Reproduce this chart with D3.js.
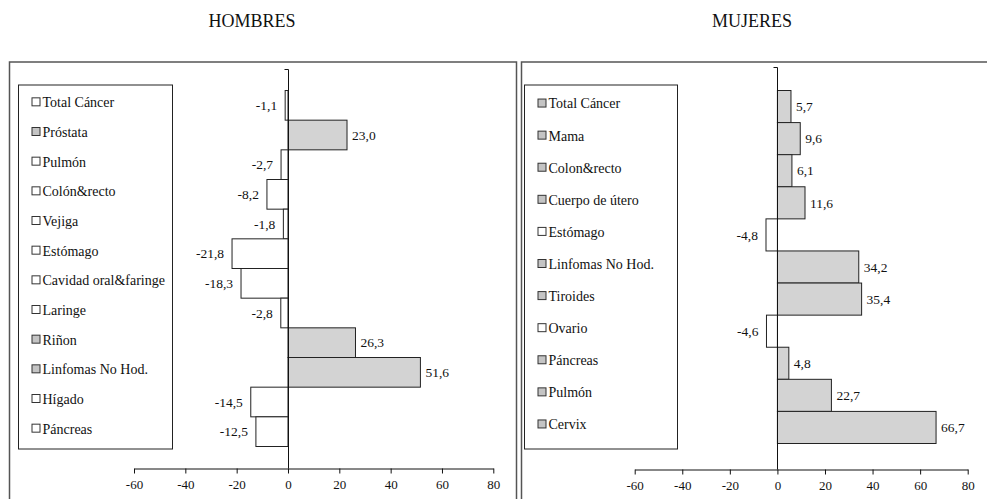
<!DOCTYPE html>
<html>
<head>
<meta charset="utf-8">
<script src="https://cdn.jsdelivr.net/npm/d3@7"></script>
<style>
  body { margin: 0; background: #fff; }
  svg { display: block; font-family: "Liberation Serif", "DejaVu Serif", serif; }
  .tick-label { font-size: 13px; fill: #111; }
  .val-label { font-size: 13.5px; fill: #111; }
  .legend-label { font-size: 14px; fill: #111; }
  .title { font-size: 18px; fill: #111; }
</style>
</head>
<body>
<svg id="chart" width="987" height="499"></svg>
<script>
// Hombres
const menCategories = ['Total Cáncer', 'Próstata', 'Pulmón', 'Colón&recto', 'Vejiga', 'Estómago',
  'Cavidad oral&faringe', 'Laringe', 'Riñon', 'Linfomas No Hod.', 'Hígado', 'Páncreas'];
const menValues = [-1.1, 23.0, -2.7, -8.2, -1.8, -21.8, -18.3, -2.8, 26.3, 51.6, -14.5, -12.5];

// Mujeres
const womenCategories = ['Total Cáncer', 'Mama', 'Colon&recto', 'Cuerpo de útero', 'Estómago',
  'Linfomas No Hod.', 'Tiroides', 'Ovario', 'Páncreas', 'Pulmón', 'Cervix'];
const womenValues = [5.7, 9.6, 6.1, 11.6, -4.8, 34.2, 35.4, -4.6, 4.8, 22.7, 66.7];

const xTicks = [-60, -40, -20, 0, 20, 40, 60, 80];

const svg = d3.select('#chart');
const fmt = v => v.toFixed(1).replace('.', ',');

function drawPanel(cfg) {
  const g = svg.append('g');

  // outer frame
  g.append('rect')
      .attr('x', cfg.frame[0]).attr('y', 62)
      .attr('width', cfg.frame[1] - cfg.frame[0]).attr('height', 460)
      .attr('fill', 'none').attr('stroke', '#555').attr('stroke-width', 1.5);

  g.append('text')
      .attr('class', 'title')
      .attr('x', cfg.titleX).attr('y', 27)
      .attr('text-anchor', 'middle')
      .text(cfg.title);

  const x = d3.scaleLinear().domain([-60, 80]).range(cfg.xRange);
  const y = d3.scaleBand().domain(cfg.categories).range(cfg.yRange).padding(0);

  // legend box
  g.append('rect')
      .attr('x', cfg.legend[0]).attr('y', 85)
      .attr('width', cfg.legend[1] - cfg.legend[0]).attr('height', 364)
      .attr('fill', '#fff').attr('stroke', '#222').attr('stroke-width', 1);

  const items = g.selectAll('.legend-item')
      .data(cfg.categories.map((c, i) => ({c, v: cfg.values[i]})))
    .join('g')
      .attr('class', 'legend-item')
      .attr('transform', d => `translate(${cfg.legend[0] + 13},${y(d.c) + y.bandwidth() / 2 - 3})`);

  items.append('rect')
      .attr('x', 0.5).attr('y', -4.5)
      .attr('width', 8).attr('height', 8)
      .attr('fill', d => d.v > 0 ? '#c4c4c4' : '#fff')
      .attr('stroke', '#333').attr('stroke-width', 1);

  items.append('text')
      .attr('class', 'legend-label')
      .attr('x', 11).attr('dy', '0.35em')
      .text(d => d.c);

  // bars
  g.selectAll('.bar')
      .data(cfg.values)
    .join('rect')
      .attr('class', 'bar')
      .attr('x', d => x(Math.min(0, d)))
      .attr('y', (d, i) => y(cfg.categories[i]))
      .attr('width', d => Math.abs(x(d) - x(0)))
      .attr('height', y.bandwidth())
      .attr('fill', d => d > 0 ? '#d3d3d3' : '#fff')
      .attr('stroke', '#222').attr('stroke-width', 1);

  // value labels
  g.selectAll('.val-label')
      .data(cfg.values)
    .join('text')
      .attr('class', 'val-label')
      .attr('x', d => d > 0 ? x(d) + 5 : x(d) - 8)
      .attr('y', (d, i) => y(cfg.categories[i]) + y.bandwidth() / 2)
      .attr('dy', '0.35em')
      .attr('text-anchor', d => d > 0 ? 'start' : 'end')
      .text(fmt);

  // category axis line
  const x0 = Math.round(x(0)) + 0.5;
  g.append('path')
      .attr('d', `M${x0 - 4},${cfg.axisTop}H${x0}V${cfg.axisY}`)
      .attr('fill', 'none').attr('stroke', '#111').attr('stroke-width', 1);

  // value axis
  const xAxis = d3.axisBottom(x).tickValues(xTicks).tickSize(5).tickSizeOuter(0).tickPadding(6)
      .tickFormat(d => d);
  const axG = g.append('g')
      .attr('transform', `translate(0,${cfg.axisY})`)
      .call(xAxis)
      .attr('font-family', null)
      .attr('font-size', null);
  axG.select('.domain').attr('stroke', '#111');
  axG.selectAll('.tick line').attr('stroke', '#111');
  axG.selectAll('.tick text')
      .attr('class', 'tick-label')
      .attr('fill', '#111');
}

drawPanel({
  title: 'HOMBRES', titleX: 252,
  frame: [9.5, 516.5],
  legend: [18.5, 172.5],
  categories: menCategories, values: menValues,
  xRange: [134, 493.3],
  yRange: [90.5, 446.5],
  axisTop: 69.5, axisY: 468.5
});

drawPanel({
  title: 'MUJERES', titleX: 752,
  frame: [521.5, 1000],
  legend: [524.5, 677.5],
  categories: womenCategories, values: womenValues,
  xRange: [634.7, 967.7],
  yRange: [90.5, 443.5],
  axisTop: 67.5, axisY: 469.5
});
</script>
</body>
</html>
